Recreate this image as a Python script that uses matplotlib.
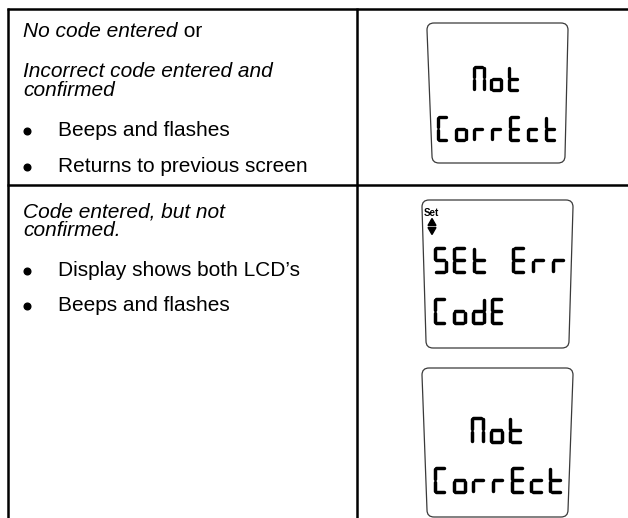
import matplotlib
matplotlib.use('Agg')
import matplotlib.pyplot as plt
from matplotlib.path import Path
from matplotlib.patches import PathPatch, Polygon

plt.rcParams['font.family'] = ['Liberation Sans', 'DejaVu Sans']

W, H = 628, 518

# left column texts
row1_desc = [("No code entered", " or"), ("Incorrect code entered and", ""), ("confirmed", "")]
row1_bullets = ["Beeps and flashes", "Returns to previous screen"]
row2_desc = [("Code entered, but not", ""), ("confirmed.", "")]
row2_bullets = ["Display shows both LCD\u2019s", "Beeps and flashes"]

# LCD screens (two lines each)
screen1 = ["Not", "CorrEct"]
screen2 = ["SEt Err", "CodE"]
screen3 = ["Not", "CorrEct"]

# seven segment letters
SEGS = {
    'N': 'abcef', 'o': 'cdeg', 't': 'defg', 'C': 'adef', 'r': 'eg',
    'E': 'adefg', 'c': 'deg', 'S': 'acdfg', 'd': 'bcdeg', ' ': '',
}
SEG_XY = {
    'a': ((0, 0), (1, 0)), 'b': ((1, 0), (1, .5)), 'c': ((1, .5), (1, 1)),
    'd': ((0, 1), (1, 1)), 'e': ((0, .5), (0, 1)), 'f': ((0, 0), (0, .5)),
    'g': ((0, .5), (1, .5)),
}

fig = plt.figure(figsize=(W / 100, H / 100), dpi=100)
ax = fig.add_axes([0, 0, 1, 1])
ax.set_xlim(0, W)
ax.set_ylim(H, 0)
ax.axis('off')

# table grid
LW = 1.8
ax.plot([7, W], [8.5, 8.5], color='black', lw=LW, solid_capstyle='butt')
ax.plot([7, W], [185, 185], color='black', lw=LW, solid_capstyle='butt')
ax.plot([8, 8], [7.5, H], color='black', lw=LW, solid_capstyle='butt')
ax.plot([356.5, 356.5], [7.5, H], color='black', lw=LW, solid_capstyle='butt')

FS = 15


def desc_lines(items, baselines):
    for (ital, plain), yb in zip(items, baselines):
        t = ax.text(23, yb, ital, fontsize=FS, style='italic', va='baseline', ha='left')
        if plain:
            ax.annotate(plain, xy=(1, 0), xycoords=t, va='bottom', ha='left', fontsize=FS)


def bullet_lines(items, baselines):
    for s, yb in zip(items, baselines):
        ax.plot(26.5, yb - 5.5, 'o', color='black', ms=4.8)
        ax.text(58, yb, s, fontsize=FS, va='baseline', ha='left')


desc_lines(row1_desc, [37, 77, 96])
bullet_lines(row1_bullets, [136, 172])
desc_lines(row2_desc, [217, 236])
bullet_lines(row2_bullets, [276, 311])


def lcd_box(top, bottom, lt, rt, lb, rb, r=7):
    verts = [(lt + r, top), (rt - r, top), (rt, top), (rt, top + r),
             (rb, bottom - r), (rb, bottom), (rb - r, bottom),
             (lb + r, bottom), (lb, bottom), (lb, bottom - r),
             (lt, top + r), (lt, top), (lt + r, top), (lt + r, top)]
    codes = [Path.MOVETO, Path.LINETO, Path.CURVE3, Path.CURVE3,
             Path.LINETO, Path.CURVE3, Path.CURVE3,
             Path.LINETO, Path.CURVE3, Path.CURVE3,
             Path.LINETO, Path.CURVE3, Path.CURVE3, Path.CLOSEPOLY]
    ax.add_patch(PathPatch(Path(verts, codes), facecolor='white',
                           edgecolor='#3a3a3a', lw=0.9))


def lcd_text(s, x0, y0, w, h, pitch, lw=2.5):
    inset = 1.6
    gap = 1.5
    for i, ch in enumerate(s):
        cx = x0 + i * pitch
        for seg in SEGS.get(ch, ''):
            (u0, v0), (u1, v1) = SEG_XY[seg]
            xa = cx + inset + u0 * (w - 2 * inset)
            xb = cx + inset + u1 * (w - 2 * inset)
            ya = y0 + inset + v0 * (h - 2 * inset)
            yb = y0 + inset + v1 * (h - 2 * inset)
            if xa == xb:
                ya, yb = ya + gap, yb - gap
            else:
                xa, xb = xa + gap, xb - gap
            ax.plot([xa, xb], [ya, yb], color='black', lw=lw, solid_capstyle='round')


# screen 1 (slightly smaller)
lcd_box(23, 163, 427, 568, 432, 565)
lcd_text(screen1[0], 472, 65, 13.5, 27, 17.5, lw=2.4)
lcd_text(screen1[1], 436, 115, 13.5, 27, 18.0, lw=2.4)

# screen 2 with Set indicator
lcd_box(200, 348, 422, 573, 426, 569)
ax.text(424, 215.5, "Set", fontsize=7, fontweight='bold', va='baseline', ha='left')
ax.add_patch(Polygon([(428, 225.5), (436, 225.5), (432, 218.5)], closed=True, color='black'))
ax.add_patch(Polygon([(428, 227.5), (436, 227.5), (432, 234.5)], closed=True, color='black'))
lcd_text(screen2[0], 433, 246, 14.5, 28, 19.7)
lcd_text(screen2[1], 433, 297, 14.5, 28, 19.0)

# screen 3
lcd_box(368, 517, 422, 573, 427, 568)
lcd_text(screen3[0], 470, 416, 14.5, 28, 19.3)
lcd_text(screen3[1], 433, 466, 14.5, 28, 19.3)

fig.savefig('out.png', dpi=100)
